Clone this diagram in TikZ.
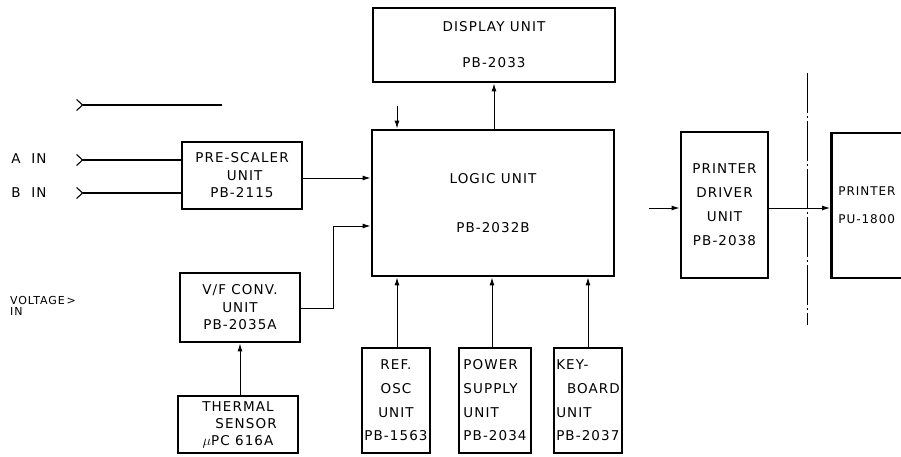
\documentclass[tikz,border=0pt]{standalone}
\usepackage{fontspec}
\setmainfont{DejaVu Sans}[LetterSpace=8]
\usepackage{tikz}
\usetikzlibrary{arrows.meta}

\newcommand\unitfont[1]{\fontsize{13.5}{#1}\selectfont}

\begin{document}
\begin{tikzpicture}[
  x=1pt, y=-1pt,
  >={Latex[length=8pt,width=5pt]},
  box/.style={
    draw,
    line width=2.8pt,
    align=center,
    inner sep=2pt,
    font=\unitfont{17.5}
  },
  arrow/.style={->, line width=1pt},
  inmark/.style={{Straight Barb[reversed,length=6pt,width=11pt,line width=1.1pt]}-, line width=1.1pt}
]
  \useasboundingbox (0,0) rectangle (901,457);
  \clip (0,0) rectangle (901,457);

  % upper row
  \node[box, minimum width=242, minimum height=74, font=\unitfont{36}] (disp) at (494,45) {DISPLAY UNIT\\PB-2033};
  \node[box, minimum width=242, minimum height=146, font=\unitfont{49}] (logic) at (493,203) {LOGIC UNIT\\PB-2032B};

  % left column
  \node[box, minimum width=120, minimum height=67] (pre) at (242,175.5) {PRE-SCALER\\\ UNIT\\PB-2115};
  \node[box, minimum width=120, minimum height=69] (vf) at (240,307.5) {V/F CONV.\\UNIT\\PB-2035A};
  \node[box, minimum width=120, minimum height=57, font=\unitfont{17}] (therm) at (238,424.5) {THERMAL\\\ \ \ SENSOR\\$\mu$PC 616A};

  % bottom row
  \node[box, minimum width=68, minimum height=105, font=\unitfont{23.7}] (osc) at (396,400.5) {REF.\\OSC\\UNIT\\PB-1563};
  \node[box, minimum width=72, minimum height=105, align=left, font=\unitfont{23.7}] (psu) at (495,400.5) {POWER\\SUPPLY\\UNIT\\PB-2034};
  \node[box, minimum width=68, minimum height=105, align=left, font=\unitfont{23.7}] (kbd) at (588,400.5) {KEY-\\\ \ BOARD\\UNIT\\PB-2037};

  % printer side
  \node[box, minimum width=87, minimum height=146, font=\unitfont{24}] (drv) at (724.5,205) {PRINTER\\DRIVER\\UNIT\\PB-2038};
  \node[box, anchor=west, text width=110, inner xsep=7, align=left, minimum height=145, font=\fontsize{12}{28}\selectfont] (prn) at (830,205.5) {PRINTER\\PU-1800};

  % input labels
  \node[font=\unitfont{15}] (ain) at (29,159) {A\ \ IN};
  \node[font=\unitfont{15}] (bin) at (29,193) {B\ \ IN};
  \node[anchor=west, align=left, inner sep=0pt, font=\fontsize{11}{10.5}\selectfont] (vin) at (10,306) {VOLTAGE\,>\\IN};

  \coordinate (xin) at (76,105);
  \coordinate (xout) at (222,105);
  \coordinate (ina) at (76,160);
  \coordinate (inb) at (76,193);
  \coordinate (topin) at (397,106);
  \coordinate (drvin) at (649,208);
  \coordinate (sep1) at (807,73);
  \coordinate (sep2) at (807,325);

  \draw[inmark] (xin) -- (xout);
  \draw[inmark] (ina) -- (ina -| pre.west);
  \draw[inmark] (inb) -- (inb -| pre.west);

  \draw[arrow] (pre.east |- 0,178) -- (logic.west |- 0,178);
  \draw[arrow] (vf.east |- 0,308) -- (333,308) -- (333,226) -- (logic.west |- 0,226);
  \draw[arrow] (vf.south |- therm.north) -- (vf.south);
  \draw[arrow] (logic.north -| 494,0) -- (disp.south -| 494,0);
  \draw[arrow] (topin) -- (topin |- logic.north);
  \draw[arrow] (osc.north -| 397,0) -- (logic.south -| 397,0);
  \draw[arrow] (psu.north -| 492,0) -- (logic.south -| 492,0);
  \draw[arrow] (kbd.north) -- (kbd.north |- logic.south);
  \draw[arrow] (drvin) -- (drvin -| drv.west);
  \draw[arrow] (drv.east |- drvin) -- (prn.west |- drvin);

  \draw[line width=0.9pt, dash pattern=on 40pt off 3pt on 2pt off 3pt] (sep1) -- (sep2);
\end{tikzpicture}
\end{document}
